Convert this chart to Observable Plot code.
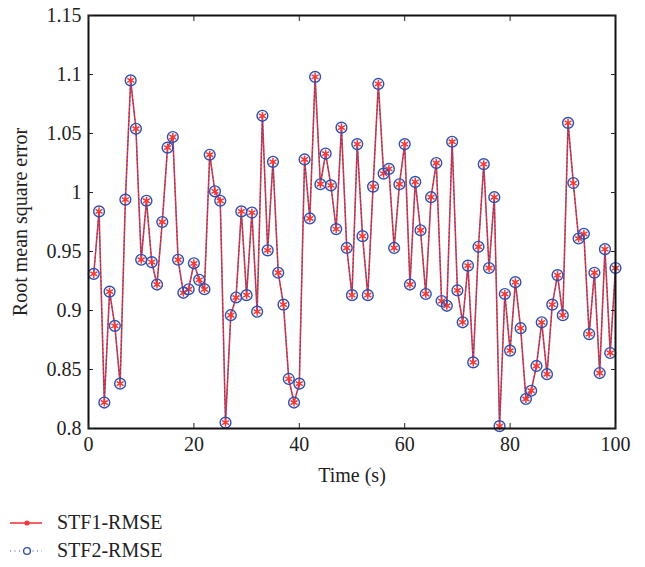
<!DOCTYPE html>
<html>
<head>
<meta charset="utf-8">
<script src="https://cdn.jsdelivr.net/npm/d3@7"></script>
<script src="https://cdn.jsdelivr.net/npm/@observablehq/plot@0.6"></script>
<style>
  html, body { margin: 0; padding: 0; background: #fff; }
  body { width: 645px; font-family: "Liberation Serif", "DejaVu Serif", serif; }
  #legend { position: relative; height: 72px; }
  .item { position: absolute; left: 8px; display: flex; align-items: center; font-size: 20px; color: #222; }
  .item svg { margin-right: 13px; }
</style>
</head>
<body>
<div id="chart"></div>
<div id="legend"></div>
<script>
const time = [1,2,3,4,5,6,7,8,9,10,11,12,13,14,15,16,17,18,19,20,21,22,23,24,25,26,27,28,29,30,31,32,33,34,35,36,37,38,39,40,41,42,43,44,45,46,47,48,49,50,51,52,53,54,55,56,57,58,59,60,61,62,63,64,65,66,67,68,69,70,71,72,73,74,75,76,77,78,79,80,81,82,83,84,85,86,87,88,89,90,91,92,93,94,95,96,97,98,99,100];
const stf1Rmse = [0.931,0.984,0.822,0.916,0.887,0.838,0.994,1.095,1.054,0.943,0.993,0.941,0.922,0.975,1.038,1.047,0.943,0.915,0.918,0.940,0.926,0.918,1.032,1.001,0.993,0.805,0.896,0.911,0.984,0.913,0.983,0.899,1.065,0.951,1.026,0.932,0.905,0.842,0.822,0.838,1.028,0.978,1.098,1.007,1.033,1.006,0.969,1.055,0.953,0.913,1.041,0.963,0.913,1.005,1.092,1.016,1.020,0.953,1.007,1.041,0.922,1.009,0.968,0.914,0.996,1.025,0.908,0.904,1.043,0.917,0.890,0.938,0.856,0.954,1.024,0.936,0.996,0.802,0.914,0.866,0.924,0.885,0.825,0.832,0.853,0.890,0.846,0.905,0.930,0.896,1.059,1.008,0.961,0.965,0.880,0.932,0.847,0.952,0.864,0.936];
const stf2Rmse = [0.931,0.984,0.822,0.916,0.887,0.838,0.994,1.095,1.054,0.943,0.993,0.941,0.922,0.975,1.038,1.047,0.943,0.915,0.918,0.940,0.926,0.918,1.032,1.001,0.993,0.805,0.896,0.911,0.984,0.913,0.983,0.899,1.065,0.951,1.026,0.932,0.905,0.842,0.822,0.838,1.028,0.978,1.098,1.007,1.033,1.006,0.969,1.055,0.953,0.913,1.041,0.963,0.913,1.005,1.092,1.016,1.020,0.953,1.007,1.041,0.922,1.009,0.968,0.914,0.996,1.025,0.908,0.904,1.043,0.917,0.890,0.938,0.856,0.954,1.024,0.936,0.996,0.802,0.914,0.866,0.924,0.885,0.825,0.832,0.853,0.890,0.846,0.905,0.930,0.896,1.059,1.008,0.961,0.965,0.880,0.932,0.847,0.952,0.864,0.936];
const xTicks = [0,20,40,60,80,100];
const yTicks = [0.8,0.85,0.9,0.95,1,1.05,1.1,1.15];
const yTickLabels = ["0.8","0.85","0.9","0.95","1","1.05","1.1","1.15"];
const seriesNames = ["STF1-RMSE","STF2-RMSE"];
const red = "#f23a3a";
const blue = "#2d4fb0";

const s1 = time.map((t,i) => ({t, v: stf1Rmse[i]}));
const s2 = time.map((t,i) => ({t, v: stf2Rmse[i]}));

const chart = Plot.plot({
  width: 645,
  height: 495,
  marginLeft: 88,
  marginRight: 30,
  marginTop: 15,
  marginBottom: 67,
  style: {fontFamily: "'Liberation Serif', serif", fontSize: "20px", color: "#222", background: "#fff"},
  x: {domain: [0,100]},
  y: {domain: [0.8,1.15]},
  marks: [
    Plot.lineY(s1, {x: "t", y: "v", stroke: red, strokeWidth: 1.6}),
    Plot.lineY(s2, {x: "t", y: "v", stroke: blue, strokeWidth: 1, strokeDasharray: "1,3"}),
    Plot.dot(s1, {x: "t", y: "v", symbol: "asterisk", r: 3.8, stroke: red, strokeWidth: 1.5}),
    Plot.dot(s2, {x: "t", y: "v", r: 5.4, stroke: blue, strokeWidth: 1.4, fill: "none"}),
    Plot.frame({stroke: "#111", strokeWidth: 2}),
    Plot.axisX({anchor: "bottom", ticks: xTicks, tickSize: -5, tickPadding: 13, label: "Time (s)", labelAnchor: "center", labelArrow: "none", labelOffset: 53}),
    Plot.axisX({anchor: "top", ticks: xTicks, tickSize: -5, tickFormat: () => "", label: null}),
    Plot.axisY({anchor: "left", ticks: yTicks, tickSize: -5, tickPadding: 12, tickFormat: (d) => yTickLabels[yTicks.findIndex(v => Math.abs(v - d) < 1e-9)], label: "Root mean square error", labelAnchor: "center", labelArrow: "none", labelOffset: 76}),
    Plot.axisY({anchor: "right", ticks: yTicks, tickSize: -5, tickFormat: () => "", label: null})
  ]
});
document.getElementById("chart").appendChild(chart);

const legend = document.getElementById("legend");
seriesNames.forEach((name, i) => {
  const div = document.createElement("div");
  div.className = "item";
  div.style.top = (i === 0 ? 16 : 44) + "px";
  const sw = i === 0
    ? `<svg width="36" height="14"><line x1="2" y1="7" x2="34" y2="7" stroke="${red}" stroke-width="1.6"/><circle cx="19" cy="7" r="2.6" fill="${red}"/></svg>`
    : `<svg width="36" height="14"><line x1="2" y1="7" x2="34" y2="7" stroke="${blue}" stroke-width="1.2" stroke-dasharray="1,3.5"/><circle cx="19" cy="7" r="3.4" fill="#fff" stroke="${blue}" stroke-width="1.4"/></svg>`;
  div.innerHTML = sw + `<span>${name}</span>`;
  legend.appendChild(div);
});
</script>
</body>
</html>
